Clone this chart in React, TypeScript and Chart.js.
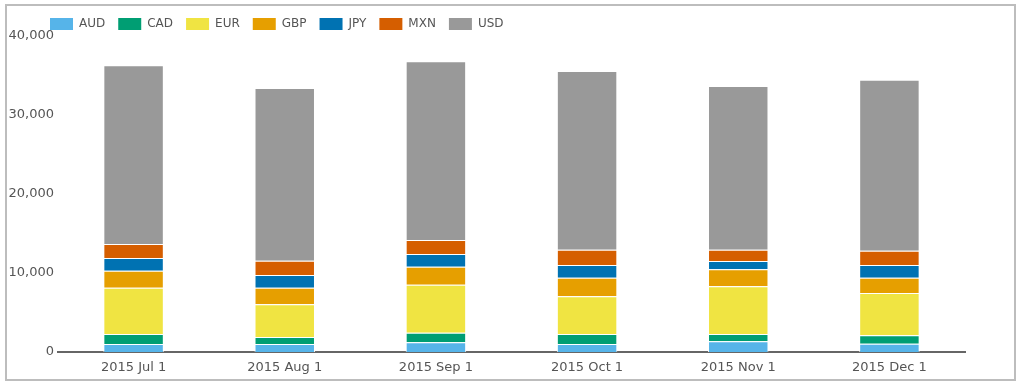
import React, { useEffect, useRef } from "react";
import { Chart, registerables } from "chart.js";

Chart.register(...registerables);

const categories = ["2015 Jul 1", "2015 Aug 1", "2015 Sep 1", "2015 Oct 1", "2015 Nov 1", "2015 Dec 1"];
const seriesNames = ["AUD", "CAD", "EUR", "GBP", "JPY", "MXN", "USD"];
const seriesColors = ["#56B4E9", "#009E73", "#F0E442", "#E69F00", "#0072B2", "#D55E00", "#999999"];

const audValues = [1010, 1010, 1230, 1010, 1350, 1050];
const cadValues = [1270, 890, 1220, 1270, 930, 1060];
const eurValues = [5860, 4140, 6070, 4770, 6040, 5360];
const gbpValues = [2150, 2100, 2280, 2360, 2150, 1940];
const jpyValues = [1610, 1610, 1610, 1600, 1050, 1600];
const mxnValues = [1770, 1810, 1770, 1940, 1430, 1820];
const usdValues = [22630, 21860, 22620, 22620, 20730, 21640];

const seriesValues = [audValues, cadValues, eurValues, gbpValues, jpyValues, mxnValues, usdValues];

const yMin = 0;
const yMax = 40000;
const yStep = 10000;

const legendShift = {
  id: "legendShift",
  afterLayout(chart: any) {
    const l = chart.legend;
    if (l) {
      l.left += 37;
    }
  },
};

export default function App() {
  const canvasRef = useRef<HTMLCanvasElement | null>(null);

  useEffect(() => {
    if (!canvasRef.current) return;
    const chart = new Chart(canvasRef.current, {
      type: "bar",
      data: {
        labels: categories,
        datasets: seriesNames.map((name, i) => ({
          label: name,
          data: seriesValues[i],
          backgroundColor: seriesColors[i],
          borderColor: "rgba(255,255,255,0.9)",
          borderWidth: 1,
          categoryPercentage: 0.8,
          barPercentage: 0.5,
        })),
      },
      plugins: [legendShift],
      options: {
        animation: false,
        responsive: false,
        devicePixelRatio: 1,
        layout: { padding: { left: 0, right: 59, top: 5, bottom: 0 } },
        plugins: {
          tooltip: { enabled: false },
          legend: {
            position: "top",
            align: "start",
            maxHeight: 31,
            labels: {
              boxWidth: 23,
              boxHeight: 12,
              padding: 13,
              color: "#555",
              font: { family: "'DejaVu Sans', sans-serif", size: 12 },
              generateLabels: (c: any) =>
                Chart.defaults.plugins.legend.labels.generateLabels(c).map((l: any) => ({ ...l, lineWidth: 0 })),
            },
          },
        },
        scales: {
          x: {
            stacked: true,
            grid: { display: false, drawTicks: false },
            border: { display: true, color: "#666", width: 2 },
            ticks: {
              color: "#555",
              padding: 8,
              font: { family: "'DejaVu Sans', sans-serif", size: 13 },
              maxRotation: 0,
            },
            afterFit: (s: any) => {
              s.height = 35;
            },
          },
          y: {
            stacked: true,
            min: yMin,
            max: yMax,
            grid: { display: false, drawTicks: false },
            border: { display: false },
            ticks: {
              stepSize: yStep,
              color: "#555",
              padding: 4,
              font: { family: "'DejaVu Sans', sans-serif", size: 13 },
              callback: (v: any) => Number(v).toLocaleString("en-US"),
            },
            afterFit: (s: any) => {
              s.width = 58;
            },
          },
        },
      },
    });
    return () => chart.destroy();
  }, []);

  return (
    <div style={{ position: "absolute", left: 0, top: 0, width: 1024, height: 387, background: "#fff" }}>
      <div
        style={{
          position: "absolute",
          left: 5,
          top: 4,
          width: 1011,
          height: 377,
          boxSizing: "border-box",
          border: "2px solid #bdbdbd",
        }}
      />
      <canvas ref={canvasRef} width={1024} height={387} style={{ position: "absolute", left: 0, top: 0 }} />
    </div>
  );
}
